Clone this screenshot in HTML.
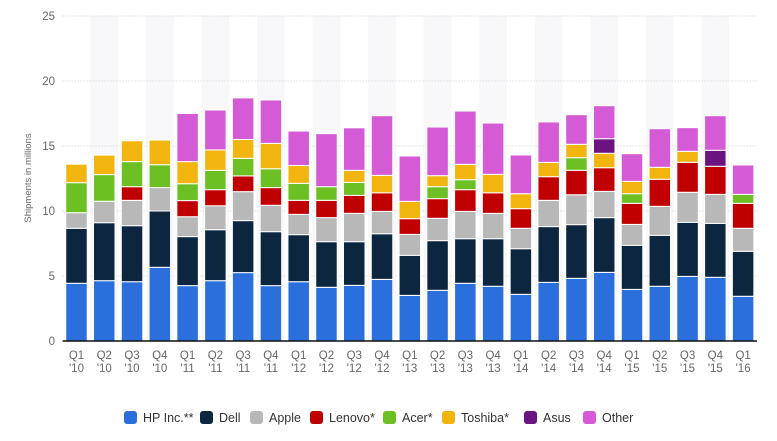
<!DOCTYPE html>
<html><head><meta charset="utf-8"><style>
body{margin:0;background:#fff;width:777px;height:436px;overflow:hidden;font-family:"Liberation Sans",sans-serif}
</style></head><body>
<svg id="chart" width="777" height="436" xmlns="http://www.w3.org/2000/svg" font-family="Liberation Sans, sans-serif"></svg>
<script>
const categories=["Q1 '10","Q2 '10","Q3 '10","Q4 '10","Q1 '11","Q2 '11","Q3 '11","Q4 '11","Q1 '12","Q2 '12","Q3 '12","Q4 '12","Q1 '13","Q2 '13","Q3 '13","Q4 '13","Q1 '14","Q2 '14","Q3 '14","Q4 '14","Q1 '15","Q2 '15","Q3 '15","Q4 '15","Q1 '16"];
const seriesNames=["HP Inc.**","Dell","Apple","Lenovo*","Acer*","Toshiba*","Asus","Other"];
const seriesColors=["#2a6fdb","#0c2640","#b8b8b8","#c00000","#6cc024","#f2b50f","#6b1380","#d55ad5"];
const hp=[4.44,4.64,4.56,5.67,4.26,4.64,5.26,4.26,4.56,4.13,4.28,4.74,3.51,3.9,4.44,4.21,3.59,4.51,4.82,5.28,3.97,4.21,4.97,4.9,3.44];
const dell=[4.23,4.46,4.31,4.33,3.77,3.92,4.0,4.15,3.62,3.51,3.36,3.51,3.08,3.82,3.43,3.66,3.51,4.29,4.13,4.21,3.39,3.92,4.16,4.15,3.46];
const apple=[1.2,1.65,1.95,1.8,1.53,1.84,2.23,2.03,1.56,1.85,2.18,1.72,1.61,1.72,2.1,1.95,1.57,2.02,2.3,2.02,1.61,2.23,2.31,2.23,1.77];
const lenovo=[0,0,1.05,0,1.24,1.24,1.21,1.36,1.08,1.33,1.38,1.43,1.21,1.51,1.67,1.58,1.51,1.82,1.88,1.82,1.62,2.08,2.3,2.16,1.92];
const acer=[2.31,2.05,1.93,1.76,1.3,1.49,1.35,1.45,1.31,1.05,1.0,0,0,0.92,0.77,0,0,0,0.97,0,0.74,0,0,0,0.69];
const toshiba=[1.42,1.5,1.6,1.9,1.7,1.57,1.45,1.95,1.37,0,0.93,1.34,1.33,0.85,1.18,1.42,1.15,1.1,1.03,1.11,0.95,0.92,0.85,0,0];
const asus=[0,0,0,0,0,0,0,0,0,0,0,0,0,0,0,0,0,0,0,1.12,0,0,0,1.23,0];
const other=[0,0,0,0,3.7,3.07,3.2,3.34,2.65,4.08,3.27,4.59,3.49,3.74,4.1,3.95,2.98,3.11,2.28,2.54,2.13,2.97,1.82,2.66,2.26];
const yTicks=[0,5,10,15,20,25];
const series=[hp,dell,apple,lenovo,acer,toshiba,asus,other];

const NS="http://www.w3.org/2000/svg";
const svg=document.getElementById('chart');
const left=62.6,right=757,top0=16,bottom=341,yMax=25;
const band=(right-left)/categories.length,barW=21.5;
const y=v=>bottom-(v/yMax)*(bottom-top0);
const xc=i=>left+band*(i+0.5);
function mk(t,a){const e=document.createElementNS(NS,t);for(const k in a)e.setAttribute(k,a[k]);svg.appendChild(e);return e;}
// alternating bands
categories.forEach((c,i)=>{if(i%2===1){const r=mk('rect',{x:left+band*i,y:top0,width:band,height:bottom-top0,fill:'#f8f8fa'});

}});
// grid + y labels
yTicks.forEach(t=>{
 if(t>0){const g=mk('line',{x1:left,x2:right,y1:y(t),y2:y(t),stroke:'#cfcfcf','stroke-dasharray':'1,2'});
 
 }
 const l=mk('text',{x:55,y:y(t)+4,'text-anchor':'end','font-size':'11.5',fill:'#666'});l.textContent=t;
 
 
});
// bars
categories.forEach((c,i)=>{
 let cum=0;
 series.forEach((s,k)=>{const v=s[i];if(v>0){
  const r=mk('rect',{x:xc(i)-barW/2,y:y(cum+v),width:barW,height:y(cum)-y(cum+v),fill:seriesColors[k],stroke:'#fff','stroke-width':'1'});
  
  
 }cum+=v;});
 const p=c.split(' ');
 const t1=mk('text',{x:xc(i),y:359,'text-anchor':'middle','font-size':'11.5',fill:'#666'});t1.textContent=p[0];
 
 
 const t2=mk('text',{x:xc(i),y:372,'text-anchor':'middle','font-size':'11.5',fill:'#666'});t2.textContent=p[1];
 
 
});
const ax=mk('line',{x1:left,x2:right,y1:bottom,y2:bottom,stroke:'#111','stroke-width':'1.5'});


const yt=mk('text',{x:0,y:0,transform:'translate(31,178) rotate(-90)','text-anchor':'middle','font-size':'9.5',fill:'#666'});yt.textContent='Shipments in millions';


// legend
const legX=[124,200,250,310,383,442,524,583];
seriesNames.forEach((n,k)=>{
 const r=mk('rect',{x:legX[k],y:411,width:13,height:13,rx:3,fill:seriesColors[k]});
 
 
 const t=mk('text',{x:legX[k]+19,y:422,'font-size':'12.5',fill:'#333'});t.textContent=n;
 
 
});
</script>
</body></html>
